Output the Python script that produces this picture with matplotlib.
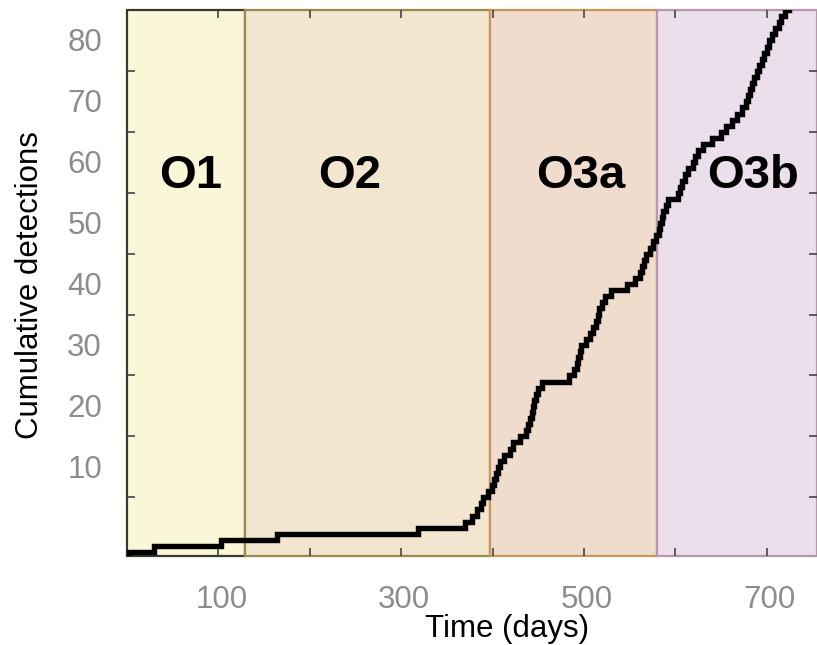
import numpy as np
import matplotlib
matplotlib.use("Agg")
import matplotlib.pyplot as plt
from matplotlib.transforms import ScaledTranslation

plt.rcParams['font.family'] = ['Liberation Sans', 'DejaVu Sans']

# Observing runs (days of observing time)
run_names = ["O1", "O2", "O3a", "O3b"]
run_starts = [0, 129, 397, 580]
run_ends = [129, 397, 580, 755]
run_fill = ["#faf7d9", "#f3e6d0", "#f0dccd", "#ecdfec"]
run_edge = ["#3a3a2a", "#9a8a4a", "#c8955a", "#b898a8"]
run_label_x = [70, 244, 497, 685]
run_label_y = 62.7

# Detection times (days), one entry per detection
events_o1 = [2, 30, 103]
events_o2 = [164, 318, 370, 378, 383, 387, 390, 395]
events_o3a = [399, 402, 404, 406, 408, 412, 419, 422, 430, 437, 439, 441,
              443, 444, 445, 447, 450, 454, 484, 489, 492, 494, 496, 497,
              502, 507, 510, 513, 515, 517, 520, 523, 530, 547, 556, 561,
              564, 566, 568, 572, 576, 579]
events_o3b = [582, 583, 585, 587, 590, 592, 603, 605, 607, 611, 614, 619,
              622, 625, 630, 640, 650, 655, 662, 667, 673, 677, 680, 682,
              684, 686, 689, 692, 695, 697, 700, 703, 706, 709, 713, 716,
              720, 724]

x_ticks = [100, 200, 300, 400, 500, 600, 700]
x_tick_labels = ["100", "", "300", "", "500", "", "700"]
y_ticks = [10, 20, 30, 40, 50, 60, 70, 80]
y_tick_labels = ["10", "20", "30", "40", "50", "60", "70", "80"]

fig = plt.figure(figsize=(8.17, 6.45), dpi=100)
ax = fig.add_axes([127/817, (645-556)/645, 690/817, 546/645])
xmin, xmax = 0, 755
ymin, ymax = 0.36, 90
ax.set_xlim(xmin, xmax)
ax.set_ylim(ymin, ymax)

for s, e, fc, ec in zip(run_starts, run_ends, run_fill, run_edge):
    ax.axvspan(s, e, facecolor=fc, edgecolor=ec, linewidth=1.6, zorder=0,
               clip_on=False)

for name, lx in zip(run_names, run_label_x):
    ax.text(lx, run_label_y, name, ha='center', va='center', fontsize=34,
            fontweight='bold', color='black', zorder=3)

events = events_o1 + events_o2 + events_o3a + events_o3b
xs = np.concatenate([[0], events, [xmax]])
ys = np.concatenate([[0], np.arange(1, len(events) + 1), [len(events)]])
ax.plot(xs, ys, drawstyle='steps-post', color='black', lw=3.9,
        solid_joinstyle='miter', zorder=4)

for sp in ax.spines.values():
    sp.set_visible(False)

ax.set_xticks(x_ticks)
ax.set_xticklabels(x_tick_labels)
ax.set_yticks(y_ticks)
ax.set_yticklabels(y_tick_labels)
ax.tick_params(axis='both', which='both', direction='in', length=6,
               width=1.2, color='#444444', top=True, right=True,
               labelsize=22.5, labelcolor='#8c8c8c')
ax.tick_params(axis='y', pad=18)
ax.tick_params(axis='x', pad=21)

for lab in ax.get_yticklabels():
    lab.set_transform(lab.get_transform() + ScaledTranslation(0, 0.31, fig.dpi_scale_trans))
for lab in ax.get_xticklabels():
    lab.set_transform(lab.get_transform() + ScaledTranslation(0.03, 0, fig.dpi_scale_trans))

ax.set_xlabel("Time (days)", fontsize=22.5, color='black')
ax.xaxis.set_label_coords((507-127)/690, (556-614)/546)
ax.set_ylabel("Cumulative detections", fontsize=22.5, color='black')
ax.yaxis.set_label_coords((45-127)/690, (556-285)/546)

fig.savefig("out.png", dpi=100)
